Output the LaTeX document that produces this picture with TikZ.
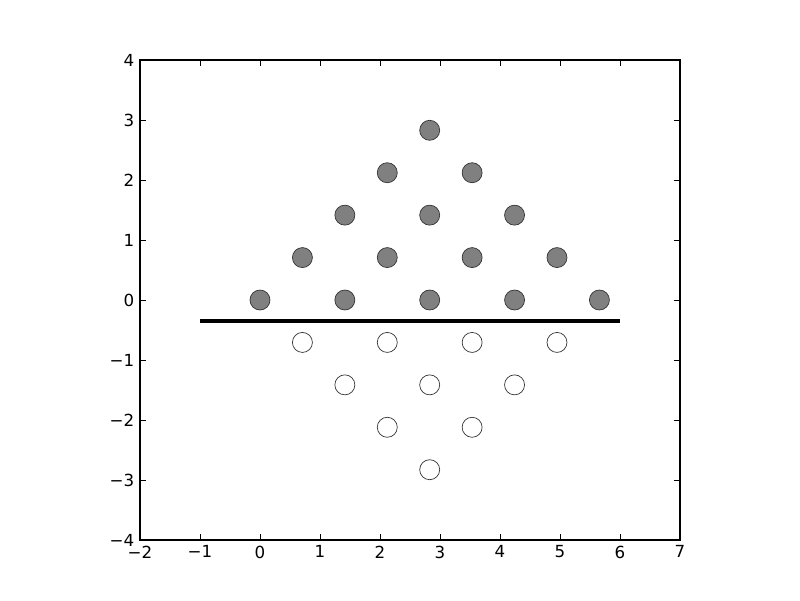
\documentclass[tikz,border=0pt]{standalone}
\usepackage{fontspec}
\setmainfont{DejaVu Sans}
\usepackage{tikz}
\usetikzlibrary{calc, positioning}
\tikzset{nodg/.style={circle,draw=black!80,fill=gray,line width=.5pt,inner sep=0pt,minimum size=14.4pt}}
\tikzset{nodw/.style={circle,draw=black!80,fill=white,line width=.5pt,inner sep=0pt,minimum size=14.4pt}}
\tikzset{tlab/.style={inner sep=0pt,font=\fontsize{12}{14}\selectfont}}

\begin{document}
\begin{tikzpicture}[x=43.2pt,y=43.2pt]
\useasboundingbox (-4.3333,-5) rectangle (9,5);
% axes box and ticks
\draw[line width=1pt] (-2,-4) rectangle (7,4);
\foreach \t/\s in {-2/−2,-1/−1,0/0,1/1,2/2,3/3,4/4,5/5,6/6,7/7}{
	\draw[line width=.5pt] (\t,-4) -- ++(0,4pt) (\t,4) -- ++(0,-4pt);
	\node [tlab,anchor=north] at ($(\t,-4)+(0,-4pt)$) {\s};
}
\foreach \t/\s in {-4/−4,-3/−3,-2/−2,-1/−1,0/0,1/1,2/2,3/3,4/4}{
	\draw[line width=.5pt] (-2,\t) -- ++(4pt,0) (7,\t) -- ++(-4pt,0);
	\node [tlab,anchor=east] at ($(-2,\t)+(-4pt,0)$) {\s};
}

% the cut
\coordinate (c1) at (-1,-0.3536);
\coordinate (c2) at (6,-0.3536);
\draw[line width=3pt] (c1) -- (c2);

% upper points
\node [nodg] at (0,0) (g1) {};
\node [nodg] at (1.4142,0) (g2) {};
\node [nodg] at (2.8284,0) (g3) {};
\node [nodg] at (4.2426,0) (g4) {};
\node [nodg] at (5.6569,0) (g5) {};
\node [nodg] at (0.7071,0.7071) (g6) {};
\node [nodg] at (2.1213,0.7071) (g7) {};
\node [nodg] at (3.5355,0.7071) (g8) {};
\node [nodg] at (4.9497,0.7071) (g9) {};
\node [nodg] at (1.4142,1.4142) (g10) {};
\node [nodg] at (2.8284,1.4142) (g11) {};
\node [nodg] at (4.2426,1.4142) (g12) {};
\node [nodg] at (2.1213,2.1213) (g13) {};
\node [nodg] at (3.5355,2.1213) (g14) {};
\node [nodg] at (2.8284,2.8284) (g15) {};

% lower points
\node [nodw] at (0.7071,-0.7071) (w1) {};
\node [nodw] at (2.1213,-0.7071) (w2) {};
\node [nodw] at (3.5355,-0.7071) (w3) {};
\node [nodw] at (4.9497,-0.7071) (w4) {};
\node [nodw] at (1.4142,-1.4142) (w5) {};
\node [nodw] at (2.8284,-1.4142) (w6) {};
\node [nodw] at (4.2426,-1.4142) (w7) {};
\node [nodw] at (2.1213,-2.1213) (w8) {};
\node [nodw] at (3.5355,-2.1213) (w9) {};
\node [nodw] at (2.8284,-2.8284) (w10) {};
\end{tikzpicture}
\end{document}
